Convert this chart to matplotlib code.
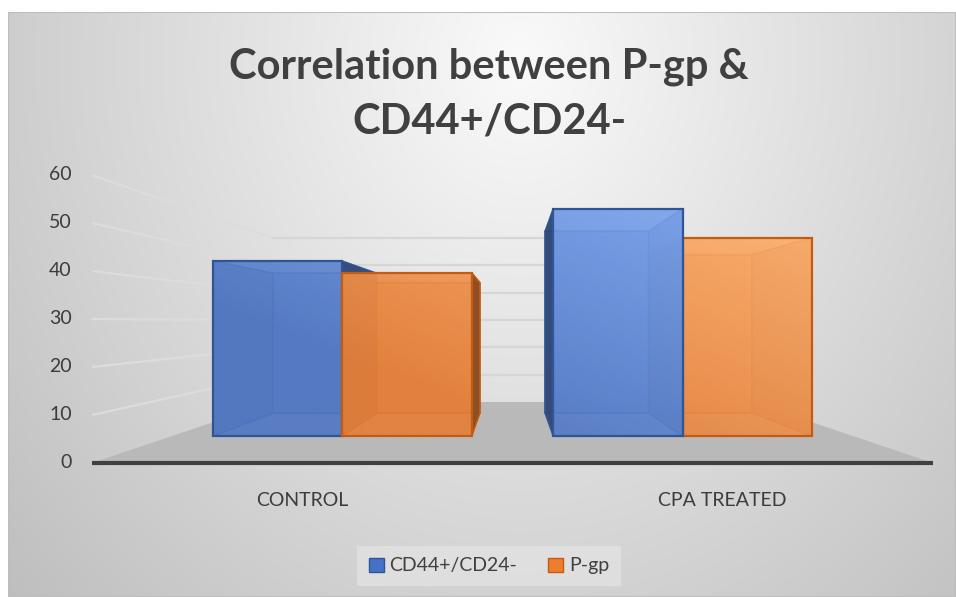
import numpy as np
import matplotlib.pyplot as plt
from matplotlib.patches import Polygon, Patch, Rectangle

# ------------------------------------------------------------
# Data
# ------------------------------------------------------------
categories = ["CONTROL", "CPA TREATED"]
series_names = ["CD44+/CD24-", "P-gp"]
cd44_values = [45.0, 58.5]
pgp_values = [42.0, 51.0]
y_ticks = [0, 10, 20, 30, 40, 50, 60]
title_lines = ["Correlation between P-gp &", "CD44+/CD24-"]

# ------------------------------------------------------------
# Fake 3D geometry (central projection toward a vanishing point)
# ------------------------------------------------------------
K = 0.757           # depth -> shrink factor
VX, VH = 1.0, 29.5  # vanishing point in front-plane data coords
BAR_W = 0.38
D0, D1 = 0.312, 0.721

FONT = ["Lato", "DejaVu Sans"]
plt.rcParams["font.family"] = FONT

W, H = 956, 597
fig = plt.figure(figsize=(W / 100, H / 100), dpi=100)
fig.patch.set_facecolor("white")


def proj(x, v, d):
    f = 1.0 / (1.0 + K * d)
    return (VX + (x - VX) * f, VH * (1 - f) + v * f)


# ------------------------------------------------------------
# Background (chart area gradient)
# ------------------------------------------------------------
bg = fig.add_axes([8 / W, 0, 1 - 8 / W, 1 - 12 / H])
bg.set_axis_off()
yy, xx = np.mgrid[12:597, 8:956]
r = np.sqrt(((xx - 520) / 600.0) ** 2 + ((yy - 60) / 700.0) ** 2)
g = np.clip(250 - 52 * r, 0, 255) / 255.0
bg.imshow(np.dstack([g, g, g]), aspect="auto", extent=[0, 1, 0, 1], zorder=0)
bg.add_patch(Rectangle((0, 0), 1, 1, transform=bg.transAxes, fill=False,
                       ec="#bdbdbd", lw=1.5, zorder=2))
bg.set_xlim(0, 1)
bg.set_ylim(0, 1)

# ------------------------------------------------------------
# Plot axes: x 0..2 (categories), y 0..60 on the front plane
# ------------------------------------------------------------
ax = fig.add_axes([92 / W, (H - 463) / H, 841 / W, 288 / H])
ax.set_xlim(0, 2)
ax.set_ylim(0, 60)
ax.set_axis_off()
ax.patch.set_alpha(0)

# floor
floor = [proj(0, 0, 0), proj(2, 0, 0), proj(2, 0, 1), proj(0, 0, 1)]
ax.add_patch(Polygon(floor, closed=True, fc="#b9b9b9", ec="none", zorder=1,
                     clip_on=False))

# gridlines: side wall + back wall
for v in y_ticks[1:]:
    p0, p1, p2 = proj(0, v, 0), proj(0, v, 1), proj(2, v, 1)
    ax.plot([p0[0], p1[0]], [p0[1], p1[1]], color="#dcdcdc", lw=1.6,
            zorder=2, clip_on=False, solid_capstyle="butt")
    ax.plot([p1[0], p2[0]], [p1[1], p2[1]], color="#d6d6d6", lw=1.6,
            zorder=2, clip_on=False)

# front axis line
ax.plot([0, 2], [0, 0], color="#404040", lw=3, zorder=3, clip_on=False,
        solid_capstyle="butt")

# tick labels
for v in y_ticks:
    ax.text(-0.048, v, str(v), ha="right", va="center", fontsize=14,
            color="#3c3c3c")
for i, c in enumerate(categories):
    ax.text(i + 0.5, -7.9, c, ha="center", va="center", fontsize=14,
            color="#3c3c3c")

# ------------------------------------------------------------
# Bars
# ------------------------------------------------------------
colors = {
    "blue": dict(dark=np.array([84, 122, 196]), light=np.array([133, 172, 245]),
                 edge="#2f5597"),
    "orange": dict(dark=np.array([228, 128, 60]), light=np.array([255, 180, 115]),
                   edge="#c55a11"),
}

# shading image in data coords, driven by pixel position
gy, gx = np.mgrid[60:0:-0.25, 0:2:0.004]
px = 92 + gx * 420.5
py = 463 - gy * 4.8
shade = np.clip((px - 250) / 450 * 0.6 + (430 - py) / 220 * 0.7 - 0.35, 0, 1)


def shade_img(key):
    c = colors[key]
    rgb = c["dark"][None, None, :] + shade[..., None] * (c["light"] - c["dark"])[None, None, :]
    return rgb / 255.0


def face(pts, fc, ec, alpha, z):
    p = Polygon(pts, closed=True, fc=fc, ec=ec, lw=1.1, alpha=alpha, zorder=z)
    ax.add_patch(p)
    return p


def draw_box(x0, x1, v, key, z):
    c = colors[key]
    base = c["dark"] / 255.0
    ec = c["edge"]
    P = proj
    back = [P(x0, 0, D1), P(x1, 0, D1), P(x1, v, D1), P(x0, v, D1)]
    bottom = [P(x0, 0, D0), P(x1, 0, D0), P(x1, 0, D1), P(x0, 0, D1)]
    top = [P(x0, v, D0), P(x1, v, D0), P(x1, v, D1), P(x0, v, D1)]
    left = [P(x0, 0, D0), P(x0, 0, D1), P(x0, v, D1), P(x0, v, D0)]
    right = [P(x1, 0, D0), P(x1, 0, D1), P(x1, v, D1), P(x1, v, D0)]
    front = [P(x0, 0, D0), P(x1, 0, D0), P(x1, v, D0), P(x0, v, D0)]
    # which side faces the viewer
    if (x0 + x1) / 2 < VX:
        far, near = left, right
    else:
        far, near = right, left
    face(back, base * 0.97, ec, 0.9, z)
    face(bottom, base * 0.95, ec, 0.6, z + 0.1)
    face(top, base, ec, 0.6, z + 0.1)
    face(far, base * 0.85, ec, 0.9, z + 0.2)
    face(near, base * 0.6, ec, 0.95, z + 0.3)
    fp = Polygon(front, closed=True, fc="none", ec="none", zorder=z + 0.4)
    ax.add_patch(fp)
    im = ax.imshow(shade_img(key), extent=[0, 2, 0, 60], aspect="auto",
                   alpha=0.84, zorder=z + 0.4, interpolation="bilinear")
    im.set_clip_path(fp)
    ax.add_patch(Polygon(front, closed=True, fc="none", ec=ec, lw=1.6,
                         zorder=z + 0.5))


boxes = []
for i in range(len(categories)):
    c = i + 0.5
    boxes.append((c - BAR_W, c, cd44_values[i], "blue"))
    boxes.append((c, c + BAR_W, pgp_values[i], "orange"))
# farther from the centre first
boxes.sort(key=lambda b: -abs((b[0] + b[1]) / 2 - VX))
for k, (x0, x1, v, key) in enumerate(boxes):
    draw_box(x0, x1, v, key, 5 + k)

ax.set_xlim(0, 2)
ax.set_ylim(0, 60)

# ------------------------------------------------------------
# Title & legend
# ------------------------------------------------------------
fig.text(489 / W, 1 - 79 / H, title_lines[0], ha="center", va="baseline",
         fontsize=30, fontweight="bold", color="#404040")
fig.text(489 / W, 1 - 134 / H, title_lines[1], ha="center", va="baseline",
         fontsize=30, fontweight="bold", color="#404040")

handles = [Patch(fc="#4472c4", ec="#2f5597", label=series_names[0]),
           Patch(fc="#ed7d31", ec="#c55a11", label=series_names[1])]
leg = fig.legend(handles=handles, loc="center", bbox_to_anchor=(489 / W, 1 - 566 / H),
                 ncol=2, frameon=True, fontsize=14, handlelength=0.75,
                 handleheight=0.75, handletextpad=0.3, columnspacing=1.6,
                 borderpad=0.6, fancybox=False, labelcolor="#404040")
leg.get_frame().set_facecolor("#e2e2e2")
leg.get_frame().set_edgecolor("none")

fig.savefig("out.png", dpi=100)
